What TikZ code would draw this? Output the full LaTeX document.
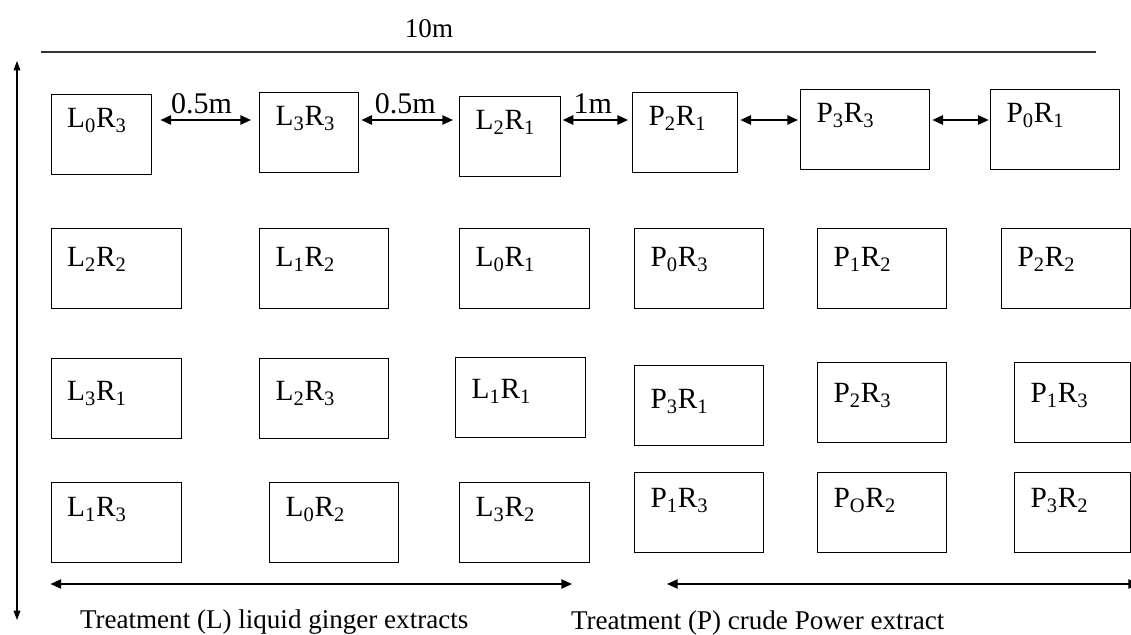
\documentclass[tikz,border=0pt]{standalone}
\usepackage{fontspec}
\setmainfont{Liberation Serif}
\usetikzlibrary{arrows.meta}

\begin{document}
\begin{tikzpicture}[x=0.75pt, y=-0.75pt, line width=1pt,
    >={Triangle[length=8pt,width=7pt]},
    parcelle/.style 2 args={draw, anchor=north west, inner sep=0pt,
        minimum width=#1*0.75pt, minimum height=#2*0.75pt},
    etiq/.style={anchor=north west, inner sep=0pt, xshift=12pt, yshift=-#1*0.75pt,
        font=\fontsize{22}{26}\selectfont},
    legende/.style={font=\fontsize{20.3}{24}\selectfont, inner sep=1pt},
    ecart/.style={font=\fontsize{22.5}{26}\selectfont, inner sep=1pt, above=3pt}]
\useasboundingbox (0,0) rectangle (1131,635);

% Longueur du champ
\coordinate (hg) at (41,52);
\coordinate (hd) at (1096,52);
\draw[line width=0.8pt, black!80] (hg) -- (hd);
\node[legende] (dix) at (429,29) {10m};

% Largeur du champ
\coordinate (vh) at (17,61);
\coordinate (vb) at (17,620);
\draw[<->, line width=0.8pt, >={Triangle[length=7pt,width=5pt]}] (vh) -- (vb);

% Rang 1
\node[parcelle={100}{80}, label={[etiq=14]north west:L\textsubscript{0}R\textsubscript{3}}] (l03) at (50.5,94) {};
\node[parcelle={99}{80}, label={[etiq=14]north west:L\textsubscript{3}R\textsubscript{3}}] (l33) at (259,92) {};
\node[parcelle={101}{80}, label={[etiq=14]north west:L\textsubscript{2}R\textsubscript{1}}] (l21) at (459,96) {};
\node[parcelle={105}{80}, label={[etiq=14]north west:P\textsubscript{2}R\textsubscript{1}}] (p21) at (632,92) {};
\node[parcelle={129}{80}, label={[etiq=14]north west:P\textsubscript{3}R\textsubscript{3}}] (p33) at (800,89) {};
\node[parcelle={129}{80}, label={[etiq=14]north west:P\textsubscript{0}R\textsubscript{1}}] (p01) at (990,89) {};

% Espacements
\coordinate (r1) at (0,120);
\draw[<->, line width=1.3pt, shorten <=6.5pt, shorten >=6pt] (l03.east |- r1) -- node[ecart, xshift=-3pt] (e1) {0.5m} (l33.west |- r1);
\draw[<->, line width=1.3pt, shorten <=1.5pt, shorten >=4.5pt] (l33.east |- r1) -- node[ecart, xshift=-3pt] (e2) {0.5m} (l21.west |- r1);
\draw[<->, line width=1.3pt, shorten <=1pt, shorten >=3pt] (l21.east |- r1) -- node[ecart, xshift=-3pt] (e3) {1m} (p21.west |- r1);
\draw[<->, line width=1.3pt, shorten <=1.5pt, shorten >=1.5pt] (p21.east |- r1) -- (p33.west |- r1);
\draw[<->, line width=1.3pt, shorten <=1.5pt, shorten >=1pt] (p33.east |- r1) -- (p01.west |- r1);

% Rang 2
\node[parcelle={130}{80}, label={[etiq=19]north west:L\textsubscript{2}R\textsubscript{2}}] (l22) at (50.5,228) {};
\node[parcelle={129}{80}, label={[etiq=19]north west:L\textsubscript{1}R\textsubscript{2}}] (l12) at (259,228) {};
\node[parcelle={130}{80}, label={[etiq=19]north west:L\textsubscript{0}R\textsubscript{1}}] (l01) at (459,228) {};
\node[parcelle={129}{80}, label={[etiq=19]north west:P\textsubscript{0}R\textsubscript{3}}] (p03) at (634,228) {};
\node[parcelle={129}{80}, label={[etiq=19]north west:P\textsubscript{1}R\textsubscript{2}}] (p12) at (817,228) {};
\node[parcelle={129}{80}, label={[etiq=19]north west:P\textsubscript{2}R\textsubscript{2}}] (p22) at (1001,228) {};

% Rang 3
\node[parcelle={130}{80}, label={[etiq=23]north west:L\textsubscript{3}R\textsubscript{1}}] (l31) at (50.5,358) {};
\node[parcelle={129}{80}, label={[etiq=23]north west:L\textsubscript{2}R\textsubscript{3}}] (l23) at (259,358) {};
\node[parcelle={130}{80}, label={[etiq=22]north west:L\textsubscript{1}R\textsubscript{1}}] (l11) at (455,357) {};
\node[parcelle={129}{80}, label={[etiq=24]north west:P\textsubscript{3}R\textsubscript{1}}] (p31) at (634,365) {};
\node[parcelle={129}{80}, label={[etiq=21]north west:P\textsubscript{2}R\textsubscript{3}}] (p23) at (817,362) {};
\node[parcelle={116}{80}, label={[etiq=21]north west:P\textsubscript{1}R\textsubscript{3}}] (p13) at (1014,362) {};

% Rang 4
\node[parcelle={130}{80}, label={[etiq=15]north west:L\textsubscript{1}R\textsubscript{3}}] (l13) at (50.5,482) {};
\node[parcelle={129}{80}, label={[etiq=15]north west:L\textsubscript{0}R\textsubscript{2}}] (l02) at (269,482) {};
\node[parcelle={130}{80}, label={[etiq=15]north west:L\textsubscript{3}R\textsubscript{2}}] (l32) at (459,482) {};
\node[parcelle={129}{80}, label={[etiq=16]north west:P\textsubscript{1}R\textsubscript{3}}] (p13b) at (634,472) {};
\node[parcelle={129}{80}, label={[etiq=16]north west:P\textsubscript{O}R\textsubscript{2}}] (p02) at (817,472) {};
\node[parcelle={116}{80}, label={[etiq=16]north west:P\textsubscript{3}R\textsubscript{2}}] (p32) at (1014,472) {};

% Traitements
\coordinate (bd) at (572,584);
\coordinate (pg) at (667,584);
\coordinate (pd) at (1139,584);
\draw[<->] (l13.west |- bd) -- (bd);
\draw[<->] (pg) -- (pd);
\node[legende, anchor=base west] (tl) at (78,628) {Treatment (L) liquid ginger extracts};
\node[legende, anchor=base west] (tp) at (569,629) {Treatment (P) crude Power extract};
\end{tikzpicture}
\end{document}
